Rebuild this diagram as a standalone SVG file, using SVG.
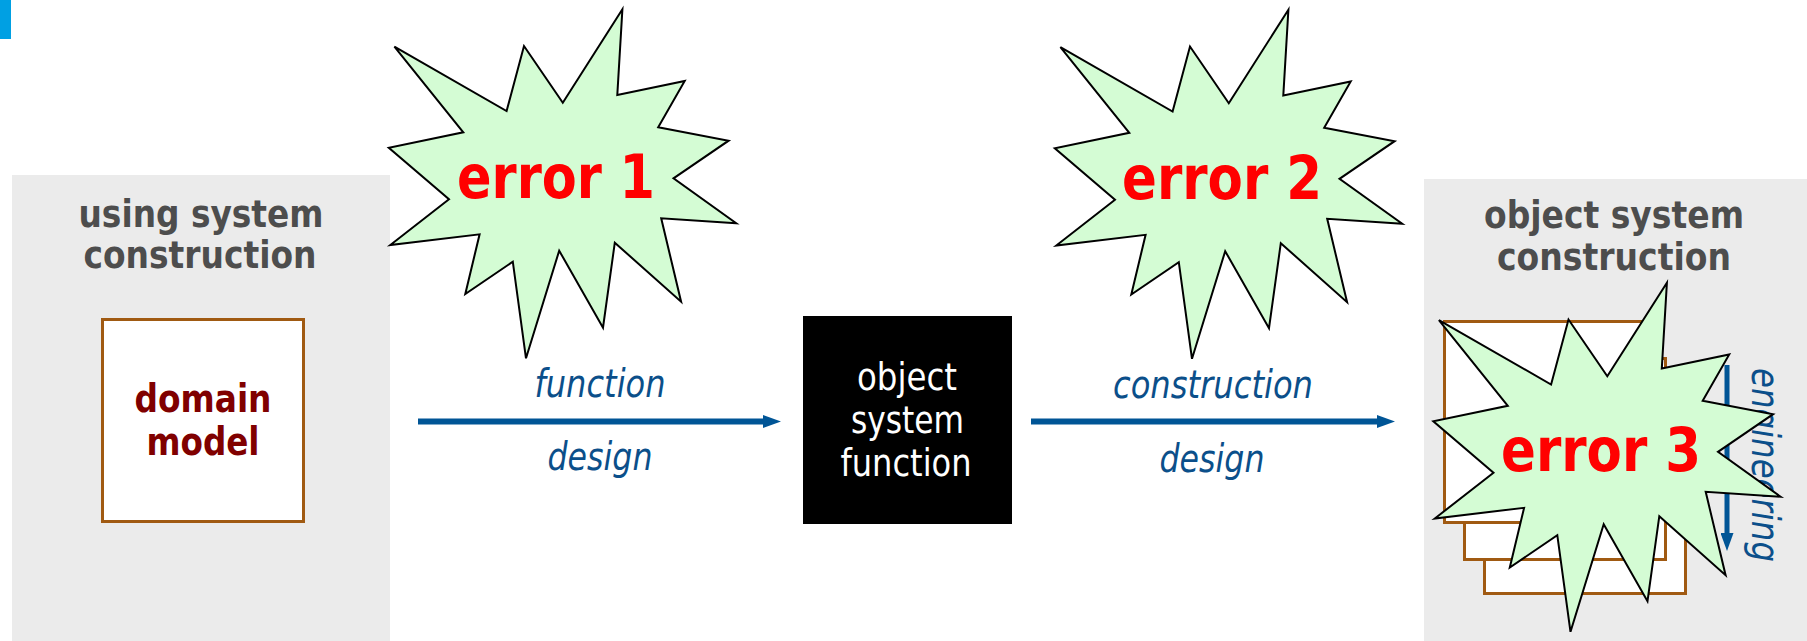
<svg xmlns="http://www.w3.org/2000/svg" width="1807" height="641" viewBox="0 0 1807 641">
<style>
.t{font-family:"DejaVu Sans Condensed","DejaVu Sans",sans-serif;font-stretch:condensed;text-anchor:middle}
.hd{font-size:37px;font-weight:bold;fill:#4d4d4d}
.dm{font-size:39px;font-weight:bold;fill:#800000}
.wh{font-size:37px;fill:#ffffff}
.lb{font-size:39px;font-style:italic;fill:#0b4f8a}
.er{font-size:60px;font-weight:bold;fill:#ff0000}
.panel{fill:#ebebeb}
.box{fill:#ffffff;stroke:#a05a12;stroke-width:3}
.star{fill:#d4fcd4;stroke:#000000;stroke-width:2;stroke-linejoin:miter}
.arr{stroke:#005596;fill:none}
</style>
<defs>
<marker id="ah" markerUnits="userSpaceOnUse" markerWidth="18" markerHeight="13" viewBox="0 0 18 13" refX="0" refY="6.5" orient="auto">
<path d="M0,0 L18,6.5 L0,13 Z" fill="#005596"/>
</marker>
<polygon id="starshape" points="394.4,46.7 506.6,111 524,46 562.8,102.7 622.4,9.3 617.3,95 684.7,81 658.2,127.3 728.6,140.7 673.5,178.3 736.2,223.3 661.2,218.3 681.1,301.7 614.8,242.7 603,327.7 559.2,250.7 526,358.3 512.8,261.7 465.3,294 479.6,234.3 390.3,245 449,199.3 388.8,147.7 463.3,132.3"/>
</defs>
<rect x="0" y="0" width="11" height="39" fill="#00a0e3"/>
<g id="using-system">
<rect class="panel" x="12" y="175" width="378" height="466"/>
<text class="t hd" x="201" y="227" textLength="245" lengthAdjust="spacingAndGlyphs">using system</text>
<text class="t hd" x="200" y="268" textLength="233" lengthAdjust="spacingAndGlyphs">construction</text>
</g>
<g id="domain-model">
<rect class="box" x="102.5" y="319.5" width="201" height="202"/>
<text class="t dm" x="203" y="412" textLength="137" lengthAdjust="spacingAndGlyphs">domain</text>
<text class="t dm" x="203" y="455" textLength="113" lengthAdjust="spacingAndGlyphs">model</text>
</g>
<g id="object-system-function">
<rect x="803" y="316" width="209" height="208" fill="#000000"/>
<text class="t wh" x="907" y="390" textLength="100" lengthAdjust="spacingAndGlyphs">object</text>
<text class="t wh" x="907.5" y="433" textLength="113" lengthAdjust="spacingAndGlyphs">system</text>
<text class="t wh" x="906" y="476" textLength="131" lengthAdjust="spacingAndGlyphs">function</text>
</g>
<g id="object-system">
<rect class="panel" x="1424" y="179" width="383" height="462"/>
<text class="t hd" x="1614" y="228" textLength="260" lengthAdjust="spacingAndGlyphs">object system</text>
<text class="t hd" x="1614" y="270" textLength="234" lengthAdjust="spacingAndGlyphs">construction</text>
</g>
<g id="construction-stack">
<rect class="box" x="1484.5" y="392.5" width="201" height="201"/>
<rect class="box" x="1464.5" y="358.5" width="201" height="201"/>
<rect class="box" x="1444.5" y="321.5" width="201" height="201"/>
</g>
<g id="connectors">
<line class="arr" x1="418" y1="421.5" x2="763" y2="421.5" stroke-width="6" marker-end="url(#ah)"/>
<text class="t lb" x="600" y="397" textLength="131" lengthAdjust="spacingAndGlyphs">function</text>
<text class="t lb" x="600" y="470" textLength="105" lengthAdjust="spacingAndGlyphs">design</text>
<line class="arr" x1="1031" y1="421.5" x2="1377" y2="421.5" stroke-width="6" marker-end="url(#ah)"/>
<text class="t lb" x="1213" y="398" textLength="200" lengthAdjust="spacingAndGlyphs">construction</text>
<text class="t lb" x="1212" y="472" textLength="105" lengthAdjust="spacingAndGlyphs">design</text>
<line class="arr" x1="1727" y1="365" x2="1727" y2="533" stroke-width="5" marker-end="url(#ah)"/>
<text class="t lb" transform="translate(1752,465) rotate(90)" x="0" y="0" textLength="194" lengthAdjust="spacingAndGlyphs">engineering</text>
</g>
<g id="error1">
<use href="#starshape" class="star"/>
<text class="t er" x="556" y="198" textLength="198" lengthAdjust="spacingAndGlyphs">error 1</text>
</g>
<g id="error2">
<use href="#starshape" class="star" transform="translate(666,0.5)"/>
<text class="t er" x="1222" y="199" textLength="200" lengthAdjust="spacingAndGlyphs">error 2</text>
</g>
<g id="error3">
<use href="#starshape" class="star" transform="translate(1044.5,273.5)"/>
<text class="t er" x="1601" y="471" textLength="200" lengthAdjust="spacingAndGlyphs">error 3</text>
</g>
</svg>
